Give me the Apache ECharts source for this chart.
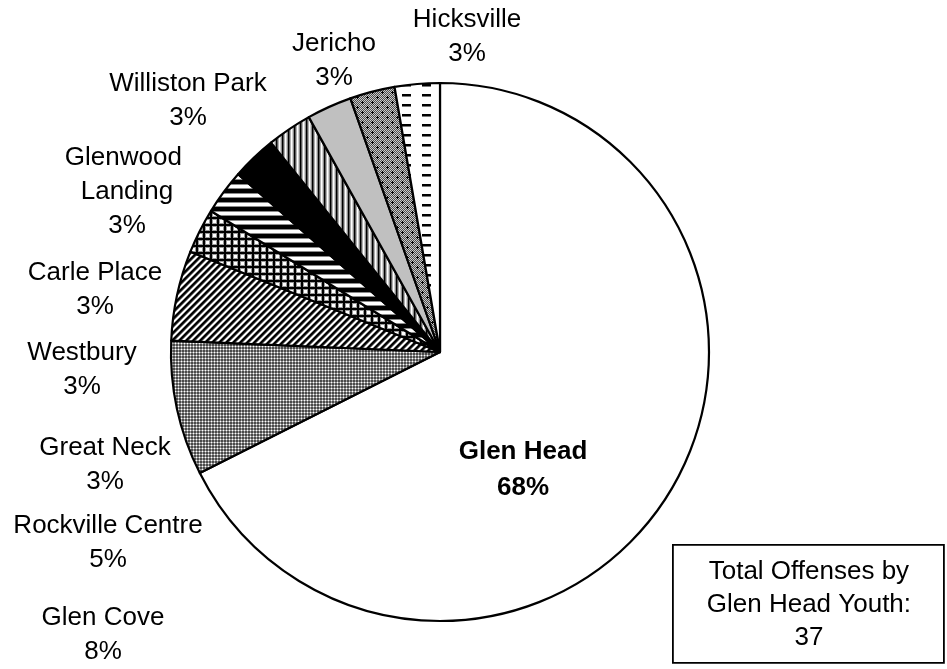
<!DOCTYPE html>
<html>
<head>
<meta charset="utf-8">
<script src="https://cdn.jsdelivr.net/npm/echarts@6/dist/echarts.min.js"></script>
<style>
  html, body { margin: 0; padding: 0; background: #ffffff; }
  #chart { width: 947px; height: 669px; }
</style>
</head>
<body>
<div id="chart"></div>
<script>
// Where the offenses by Glen Head youth took place
const towns = ['Glen Head', 'Glen Cove', 'Rockville Centre', 'Great Neck', 'Westbury',
               'Carle Place', 'Glenwood Landing', 'Williston Park', 'Jericho', 'Hicksville'];
const offenses = [25, 3, 2, 1, 1, 1, 1, 1, 1, 1];
const totalCaption = ['Total Offenses by', 'Glen Head Youth:'];

const total = offenses.reduce((a, b) => a + b, 0);
const FONT = 'Arial, "Liberation Sans", Helvetica, sans-serif';

// Small canvas tiles used as black-and-white fill patterns
function tile(w, h, paint) {
  const c = document.createElement('canvas');
  c.width = w; c.height = h;
  const g = c.getContext('2d');
  g.fillStyle = '#ffffff';
  g.fillRect(0, 0, w, h);
  paint(g, (x, y, col) => { g.fillStyle = col; g.fillRect(x, y, 1, 1); });
  return { image: c, repeat: 'repeat' };
}

const fills = [
  '#ffffff',
  // fine gray mesh with white dots
  tile(3, 3, (g, px) => {
    g.fillStyle = '#4a4a4a'; g.fillRect(0, 0, 3, 3);
    px(1, 0, '#9c9c9c'); px(0, 1, '#9c9c9c'); px(2, 1, '#9c9c9c'); px(1, 2, '#9c9c9c');
    px(1, 1, '#ffffff');
  }),
  // wide diagonal hatch
  tile(7, 7, (g, px) => {
    const shade = ['#000000', '#000000', '#222222', '#8a8a8a', '#ffffff', '#ffffff', '#8a8a8a'];
    for (let y = 0; y < 7; y++) for (let x = 0; x < 7; x++) px(x, y, shade[(x + y) % 7]);
  }),
  // square grid
  tile(7, 7, (g, px) => {
    for (let i = 0; i < 7; i++) {
      px(i, 2, '#9a9a9a'); px(2, i, '#9a9a9a');
      px(i, 6, '#9a9a9a'); px(6, i, '#9a9a9a');
      px(i, 0, '#000000'); px(0, i, '#000000');
      px(i, 1, '#000000'); px(1, i, '#000000');
    }
  }),
  // horizontal bands
  tile(1, 9, (g, px) => {
    px(0, 0, '#000000'); px(0, 1, '#000000'); px(0, 2, '#000000'); px(0, 3, '#000000');
    px(0, 4, '#8a8a8a'); px(0, 8, '#8a8a8a');
  }),
  '#000000',
  // vertical stripes
  tile(6, 1, (g, px) => {
    px(0, 0, '#000000'); px(1, 0, '#5a5a5a'); px(2, 0, '#b0b0b0');
    px(4, 0, '#d0d0d0'); px(5, 0, '#8a8a8a');
  }),
  '#c0c0c0',
  // dark mesh with black crosses
  tile(10, 10, (g, px) => {
    for (let y = 0; y < 10; y++) for (let x = 0; x < 10; x++) {
      px(x, y, (x + y) % 2 ? '#4c4c4c' : '#c8c8c8');
    }
    [[2, 2], [7, 7]].forEach(([cx, cy]) => {
      px(cx, cy, '#000'); px(cx - 1, cy, '#000'); px(cx + 1, cy, '#000');
      px(cx, cy - 1, '#000'); px(cx, cy + 1, '#000');
    });
  }),
  // rows of short dashes
  tile(20, 10, (g, px) => {
    g.fillStyle = '#000000';
    g.fillRect(2, 4, 9, 2);
    g.fillStyle = '#7a7a7a';
    g.fillRect(2, 6, 9, 1);
  })
];

// Label anchor points (block centres) in the left column
const labelSpots = [
  [523, 470], [103, 635], [108, 543], [105, 465], [82, 370],
  [95, 290], [127, 192], [188, 101], [334, 61], [467, 37]
];

const pieData = towns.map((name, i) => {
  const item = { name: name, value: offenses[i], itemStyle: { color: fills[i] } };
  if (i === 0) item.label = { fontWeight: 'bold', lineHeight: 36 };
  if (name === 'Glenwood Landing') item.label = { width: 140, overflow: 'break' };
  return item;
});

const chart = echarts.init(document.getElementById('chart'), null, { renderer: 'canvas' });
chart.setOption({
  backgroundColor: '#ffffff',
  animation: false,
  series: [{
    type: 'pie',
    center: [440, 352],
    radius: 269,
    startAngle: 90,
    clockwise: true,
    avoidLabelOverlap: false,
    minShowLabelAngle: 0,
    data: pieData,
    itemStyle: { borderColor: '#000000', borderWidth: 2.2 },
    emphasis: { disabled: true },
    label: {
      show: true,
      position: 'outside',
      color: '#000000',
      fontFamily: FONT,
      fontSize: 26,
      lineHeight: 34,
      align: 'center',
      formatter: (p) => p.name + '\n' + Math.round(p.value / total * 100) + '%'
    },
    labelLine: { show: false },
    labelLayout: (p) => {
      const s = labelSpots[p.dataIndex];
      return { x: s[0], y: s[1], align: 'center', verticalAlign: 'middle' };
    }
  }],
  graphic: [{
    type: 'group',
    left: 672,
    top: 544,
    children: [
      {
        type: 'rect',
        shape: { x: 0, y: 0, width: 271, height: 118 },
        style: { fill: '#ffffff', stroke: '#000000', lineWidth: 1.8 }
      },
      {
        type: 'text',
        x: 136,
        y: 60,
        style: {
          text: totalCaption.join('\n') + '\n' + total,
          fill: '#000000',
          font: '26px ' + FONT,
          lineHeight: 33,
          align: 'center',
          verticalAlign: 'middle'
        }
      }
    ]
  }]
});
</script>
</body>
</html>
